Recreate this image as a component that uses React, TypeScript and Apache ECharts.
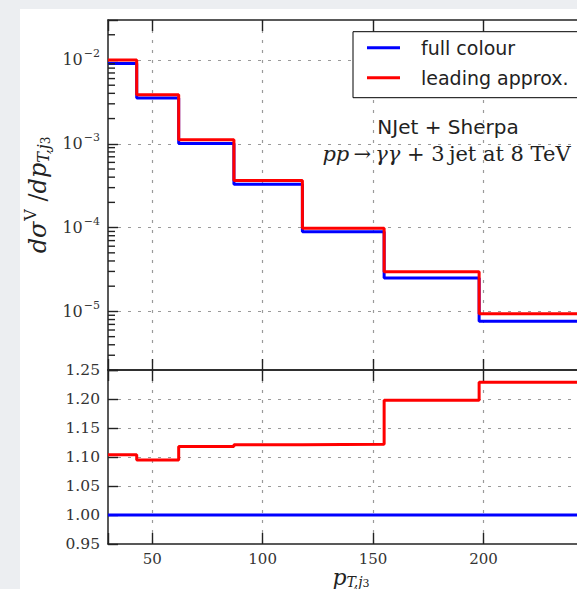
import React, { useEffect, useRef } from "react";
import * as echarts from "echarts";

// ---- data ----
const binEdges = [30, 43, 62, 87, 118, 155, 198, 250];
const fullColour = [9.06e-3, 3.51e-3, 1.007e-3, 3.29e-4, 8.9e-5, 2.51e-5, 7.65e-6];
const leadingApprox = [1.0e-2, 3.85e-3, 1.12e-3, 3.64e-4, 9.85e-5, 2.98e-5, 9.38e-6];
const ratioFull = [1.0, 1.0, 1.0, 1.0, 1.0, 1.0, 1.0];
const ratioLeading = [1.104, 1.095, 1.118, 1.121, 1.122, 1.198, 1.229];
const seriesNames = ["full colour", "leading approx."];
const xMin = 30;
const xMax = 250;
const yLogMin = 2e-6;
const yLogMax = 0.03;
const decadeExponents = [-6, -5, -4, -3, -2];
const minorMantissas = [2, 3, 4, 5, 6, 7, 8, 9];
const ratioMin = 0.95;
const ratioMax = 1.25;
const ratioStep = 0.05;

const BLUE = "#0000ff";
const RED = "#ff0000";
const AXIS = "#222";
const GRIDC = "#9a9a9a";
const SERIF = "DejaVu Serif";
const SANS = "DejaVu Sans";

function toSteps(values: number[]) {
  const pts: number[][] = values.map((v, i) => [binEdges[i], v]);
  pts.push([binEdges[binEdges.length - 1], values[values.length - 1]]);
  return pts;
}

// minor tick positions of the log axis (2..9 x 10^k)
const minorTickValues: number[] = [];
decadeExponents.forEach((e) => {
  minorMantissas.forEach((m) => {
    const v = m * Math.pow(10, e);
    if (v > yLogMin * 1.0001 && v < yLogMax * 0.9999) minorTickValues.push(v);
  });
});

const G0 = { left: 88, top: 11, width: 486, height: 350 };
const G1 = { left: 88, top: 361, width: 486, height: 174 };

const splitDash = { show: true, lineStyle: { color: GRIDC, type: [3, 7], width: 1.2 }, showMinLine: false, showMaxLine: false };

function xAxisDef(gridIndex: number, position: string, showLabel: boolean, split: boolean) {
  return {
    type: "value",
    gridIndex,
    position,
    min: xMin,
    max: xMax,
    axisLine: { show: true, onZero: false, lineStyle: { color: AXIS, width: 1.5 } },
    axisTick: { show: true, inside: true, length: 11, lineStyle: { color: AXIS, width: 1.4 } },
    axisLabel: {
      show: showLabel,
      margin: 7,
      fontFamily: SERIF,
      fontSize: 15,
      color: "#333",
      formatter: (v: number) => (v % 50 === 0 && v > xMin && v < xMax ? String(v) : ""),
    },
    splitLine: split ? splitDash : { show: false },
  };
}

const baseGraphic: any[] = [
  {
    type: "text",
    x: 428,
    y: 117.7,
    style: {
      text: "NJet + Sherpa",
      fontFamily: SANS,
      fontSize: 20,
      fill: "#222",
      align: "center",
      verticalAlign: "middle",
    },
  },
  {
    type: "text",
    x: 426.5,
    y: 145,
    style: {
      text: "{i|pp}{n|\u2009\u2192\u2009}{i|\u03b3\u03b3}{n| + 3\u2009jet at 8 TeV}",
      align: "center",
      verticalAlign: "middle",
      rich: {
        i: { fontFamily: SERIF, fontStyle: "italic", fontSize: 21, fill: "#222" },
        n: { fontFamily: SERIF, fontSize: 21, fill: "#222" },
      },
    },
  },
];

export default function App() {
  const ref = useRef<HTMLDivElement>(null);
  useEffect(() => {
    if (!ref.current) return;
    const chart = echarts.init(ref.current, null, { renderer: "svg" });
    const option: any = {
      animation: false,
      backgroundColor: "#ffffff",
      grid: [
        { ...G0, containLabel: false, outerBoundsMode: "none" },
        { ...G1, containLabel: false, outerBoundsMode: "none" },
      ],
      legend: {
        data: seriesNames,
        orient: "vertical",
        left: 333,
        top: 22.7,
        selectedMode: false,
        icon: "rect",
        backgroundColor: "#ffffff",
        borderColor: "#000",
        borderWidth: 1,
        borderRadius: 0,
        padding: [6, 14, 10, 14],
        itemGap: 10,
        itemWidth: 33,
        itemHeight: 3,
        textStyle: { fontFamily: SANS, fontSize: 19, color: "#222", lineHeight: 20, padding: [0, 0, 0, 16] },
      },
      xAxis: [
        xAxisDef(0, "bottom", false, true),
        xAxisDef(0, "top", false, false),
        {
          ...xAxisDef(1, "bottom", true, true),
          name: "{p|p}{s|T,j}{ss|3}",
          nameLocation: "middle",
          nameGap: 21,
          nameTextStyle: {
            rich: {
              p: { fontFamily: SERIF, fontStyle: "italic", fontSize: 22, color: "#222" },
              s: { fontFamily: SERIF, fontStyle: "italic", fontSize: 14, color: "#222", padding: [8, 0, 0, 0] },
              ss: { fontFamily: SERIF, fontSize: 11, color: "#222", padding: [11, 0, 0, 0] },
            },
          },
        },
        xAxisDef(1, "top", false, false),
      ],
      yAxis: [
        {
          type: "log",
          logBase: 10,
          gridIndex: 0,
          min: yLogMin,
          max: yLogMax,
          axisLine: { show: true, onZero: false, lineStyle: { color: AXIS, width: 1.5 } },
          axisTick: { show: true, inside: true, length: 10, lineStyle: { color: AXIS, width: 1.4 } },
          axisLabel: {
            margin: 8,
            formatter: (v: number) => {
              const l = Math.log10(v);
              const r = Math.round(l);
              if (Math.abs(l - r) > 1e-6) return "";
              return "{b|10}{s|\u2212" + String(-r) + "}";
            },
            rich: {
              b: { fontFamily: SERIF, fontSize: 16, color: "#333" },
              s: { fontFamily: SERIF, fontSize: 11, color: "#333", padding: [0, 0, 12, 1] },
            },
          },
          splitLine: splitDash,
          name: "{i|d\u03c3}{sup|V}{n| /}{i|dp}{sub|T,j}{subsub|3}",
          nameLocation: "middle",
          nameRotate: 90,
          nameGap: 53,
          nameTextStyle: {
            rich: {
              i: { fontFamily: SERIF, fontStyle: "italic", fontSize: 24, color: "#222" },
              n: { fontFamily: SERIF, fontSize: 24, color: "#222" },
              sup: { fontFamily: SERIF, fontSize: 16, color: "#222", padding: [0, 0, 14, 1] },
              sub: { fontFamily: SERIF, fontStyle: "italic", fontSize: 16, color: "#222", padding: [11, 0, 0, 0] },
              subsub: { fontFamily: SERIF, fontSize: 12, color: "#222", padding: [16, 0, 0, 0] },
            },
          },
        },
        {
          type: "value",
          gridIndex: 1,
          min: ratioMin,
          max: ratioMax,
          interval: ratioStep,
          axisLine: { show: true, onZero: false, lineStyle: { color: AXIS, width: 1.5 } },
          axisTick: { show: true, inside: true, length: 10, lineStyle: { color: AXIS, width: 1.4 } },
          axisLabel: {
            margin: 8,
            fontFamily: SERIF,
            fontSize: 15.5,
            color: "#333",
            formatter: (v: number) => v.toFixed(2),
          },
          splitLine: splitDash,
        },
      ],
      graphic: baseGraphic,
      series: [
        {
          name: seriesNames[0],
          type: "line",
          xAxisIndex: 0,
          yAxisIndex: 0,
          step: "end",
          symbol: "none",
          data: toSteps(fullColour),
          lineStyle: { color: BLUE, width: 3 },
          itemStyle: { color: BLUE },
          z: 3,
        },
        {
          name: seriesNames[1],
          type: "line",
          xAxisIndex: 0,
          yAxisIndex: 0,
          step: "end",
          symbol: "none",
          data: toSteps(leadingApprox),
          lineStyle: { color: RED, width: 3 },
          itemStyle: { color: RED },
          z: 4,
        },
        {
          name: seriesNames[0],
          type: "line",
          xAxisIndex: 2,
          yAxisIndex: 1,
          step: "end",
          symbol: "none",
          data: toSteps(ratioFull),
          lineStyle: { color: BLUE, width: 3 },
          itemStyle: { color: BLUE },
          z: 3,
        },
        {
          name: seriesNames[1],
          type: "line",
          xAxisIndex: 2,
          yAxisIndex: 1,
          step: "end",
          symbol: "none",
          data: toSteps(ratioLeading),
          lineStyle: { color: RED, width: 3 },
          itemStyle: { color: RED },
          z: 4,
        },
      ],
    };
    chart.setOption(option);

    // minor ticks of the log axis, placed through the axis' own scale
    const lgMin = Math.log10(yLogMin);
    const lgMax = Math.log10(yLogMax);
    let x0 = Number(chart.convertToPixel({ xAxisIndex: 0 } as any, xMin));
    if (!isFinite(x0)) x0 = G0.left;
    const minorLines = minorTickValues.map((v) => {
      let y = Number(chart.convertToPixel({ yAxisIndex: 0 } as any, v));
      if (!isFinite(y)) y = G0.top + (G0.height * (lgMax - Math.log10(v))) / (lgMax - lgMin);
      return {
        type: "line",
        silent: true,
        z: 100,
        shape: { x1: x0, y1: y, x2: x0 + 7, y2: y },
        style: { stroke: AXIS, lineWidth: 1.4 },
      };
    });
    chart.setOption({ graphic: [...baseGraphic, ...minorLines] });

    return () => chart.dispose();
  }, []);

  return (
    <div
      style={{
        position: "fixed",
        left: 0,
        top: 0,
        width: 577,
        height: 589,
        background: "#eceef1",
        overflow: "hidden",
      }}
    >
      <div ref={ref} style={{ position: "absolute", left: 20, top: 9, width: 620, height: 580 }} />
    </div>
  );
}
